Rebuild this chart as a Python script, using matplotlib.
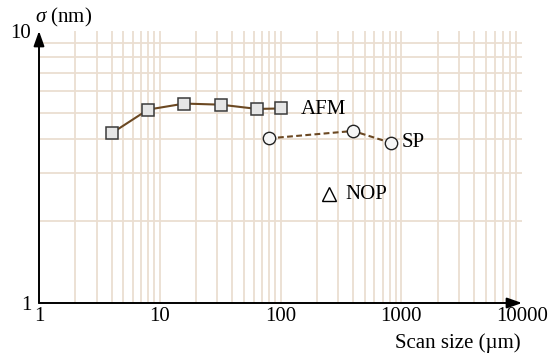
import matplotlib
matplotlib.use("Agg")
import matplotlib.pyplot as plt
import numpy as np

plt.rcParams['font.family'] = ['Liberation Serif', 'DejaVu Serif']
plt.rcParams['mathtext.fontset'] = 'custom'
plt.rcParams['mathtext.rm'] = 'Liberation Serif'
plt.rcParams['mathtext.it'] = 'Liberation Serif:italic'

# Roughness sigma (nm) versus scan size (um) for three techniques
afm_x = [4, 8, 16, 32, 64, 100]
afm_y = [4.21, 5.14, 5.41, 5.36, 5.17, 5.19]

sp_x = [80, 400, 820]
sp_y = [4.03, 4.29, 3.88]

nop_x = [250]
nop_y = [2.51]

x_ticks = [1, 10, 100, 1000, 10000]
x_ticklabels = ["1", "10", "100", "1000", "10000"]
y_ticks = [1, 10]
y_ticklabels = ["1", "10"]

grid_col = '#ebded1'
line_col = '#6b4822'
FS = 15

W, H = 555, 356
fig = plt.figure(figsize=(W / 100, H / 100), dpi=100)
ax = fig.add_axes([39 / W, 1 - 303 / H, (522 - 39) / W, (303 - 31) / H])
ax.set_xscale('log')
ax.set_yscale('log')
ax.set_xlim(1, 10000)
ax.set_ylim(1, 10)

# light log grid (sub-decade lines only, no line on the upper limits)
for dec in [1, 10, 100, 1000]:
    for m in range(2, 11):
        v = dec * m
        if v < 10000:
            ax.axvline(v, color=grid_col, lw=1.3, zorder=0)
for m in range(2, 10):
    ax.axhline(m, color=grid_col, lw=1.3, zorder=0)

for s in ax.spines.values():
    s.set_visible(False)

# axes drawn as arrows
arrow_kw = dict(arrowstyle='-|>,head_length=0.9,head_width=0.32', color='black',
                lw=1.4, shrinkA=0, shrinkB=0, mutation_scale=10)
ax.annotate('', xy=(1.0, 0.0), xytext=(0.0, 0.0), xycoords='axes fraction',
            arrowprops=arrow_kw, annotation_clip=False)
ax.annotate('', xy=(0.0, 1.0), xytext=(0.0, 0.0), xycoords='axes fraction',
            arrowprops=arrow_kw, annotation_clip=False)

ax.set_xticks(x_ticks)
ax.set_xticklabels(x_ticklabels)
ax.set_yticks(y_ticks)
ax.set_yticklabels(y_ticklabels)
ax.minorticks_off()
ax.tick_params(axis='x', length=0, pad=3.2, labelsize=FS)
ax.tick_params(axis='y', length=0, pad=5.5, labelsize=FS)

# series
ax.plot(afm_x, afm_y, color=line_col, lw=1.5, zorder=3,
        marker='s', ms=8.4, mfc='#e6e6e6', mec='#3a3a3a', mew=1.1)
ax.plot(sp_x, sp_y, color=line_col, lw=1.5, ls=(0, (2.8, 1.6)), zorder=3,
        marker='o', ms=8.9, mfc='#f6f6f6', mec='#222222', mew=1.0)
ax.plot(nop_x, nop_y, ls='none', zorder=3,
        marker='^', ms=9.5, mfc='none', mec='black', mew=1.0)

# series labels next to their last point
ax.annotate('AFM', xy=(afm_x[-1], afm_y[-1]), xytext=(20, -1),
            textcoords='offset pixels', fontsize=FS, va='center', ha='left')
ax.annotate('SP', xy=(sp_x[-1], sp_y[-1]), xytext=(11, 0),
            textcoords='offset pixels', fontsize=FS, va='center', ha='left')
ax.annotate('NOP', xy=(nop_x[0], nop_y[0]), xytext=(17, 0),
            textcoords='offset pixels', fontsize=FS, va='center', ha='left')

# axis titles
fig.text(35 / W, 1 - 17 / H, r'$\sigma$ (nm)', fontsize=FS, ha='left', va='center')
fig.text(521 / W, 1 - 343 / H, 'Scan size (\u00b5m)', fontsize=FS, ha='right', va='center')

fig.savefig('out.png', dpi=100)
